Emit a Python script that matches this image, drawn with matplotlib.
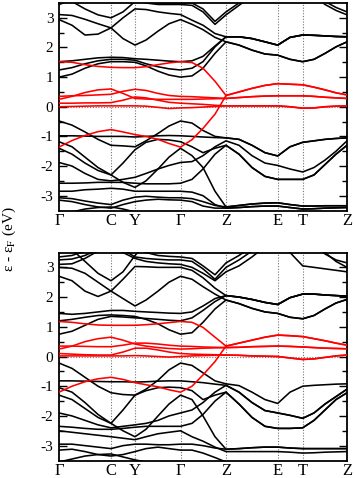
import matplotlib
matplotlib.use("Agg")
import matplotlib.pyplot as plt

# k-path sample positions (path length units) and high-symmetry points
K = [0, 13, 26, 39, 52, 64, 76, 87, 99, 110, 121.5,
     133, 144, 156, 167,
     180, 193, 206, 218.7, 231, 243.7, 255, 266, 277, 288]
HS_POS = [0, 52, 76, 121.5, 167, 218.7, 243.7, 288]
HS_LAB = ['Γ', 'C', 'Y', 'Γ', 'Z', 'E', 'T', 'Z']
YTICKS = [-3, -2, -1, 0, 1, 2, 3]

# ---------------- top panel ----------------
T_up = [0.5, 0.62, 0.72, 0.78, 0.76, 0.74, 0.66, 0.57, 0.47, 0.4]
T_mid = [0.31, 0.34, 0.36, 0.37, 0.37, 0.37, 0.35, 0.32, 0.3, 0.28]
T_low = [0.03, 0.03, 0.03, 0.03, 0.0, -0.05, -0.04, 0.0, 0.02, 0.03]
T_h2c = [2.36, 2.3, 2.19, 2.08, 2.34, 2.42, 2.41, 2.39, 2.37, 2.36]
T_h3c = [2.08, 1.91, 1.78, 1.74, 1.6, 1.52, 1.6, 1.8, 2.02, 2.19]
T_z1 = [-1.1, -1.3, -1.55, -1.66, -1.35, -1.2, -1.15, -1.1, -1.07, -1.05]
T_z2 = [-1.3, -1.65, -1.9, -1.98, -2.1, -2.2, -2.05, -1.8, -1.5, -1.15]
T_z3 = [-1.6, -2.05, -2.35, -2.45, -2.45, -2.45, -2.3, -1.95, -1.6, -1.3]
T_z4 = [-3.33, -3.28, -3.25, -3.24, -3.3, -3.35, -3.35, -3.34, -3.34, -3.34]
T_z5 = [-3.4, -3.37, -3.35, -3.35, -3.4, -3.45, -3.44, -3.42, -3.41, -3.4]
OUT_HI = [3.9] * 10
OUT_LO = [-3.6] * 10

top_black = [
    [3.8, 3.55, 3.3, 3.1, 3.0, 3.2, 3.55, 3.8, 3.9, 3.9, 3.9] + [3.9, 3.9, 3.9, 3.9] + OUT_HI,
    [3.11, 3.08, 2.95, 2.8, 2.66, 3.0, 3.3, 3.28, 3.2, 3.15, 3.11] + [2.92, 2.75, 2.47, 2.36] + T_h2c,
    [2.94, 2.75, 2.42, 2.45, 2.66, 2.3, 2.08, 2.25, 2.55, 2.8, 2.94] + [2.78, 2.6, 2.34, 2.19] + T_h3c,
    [3.45, 3.6, 3.8, 3.9, 3.9, 3.8, 3.6, 3.5, 3.45, 3.45, 3.45] + [3.42, 3.2, 2.78, 3.1]
    + [3.42, 3.75, 3.9, 3.9, 3.9, 3.9, 3.75, 3.45, 3.25, 3.1],
    [3.5, 3.7, 3.9, 3.9, 3.9, 3.9, 3.7, 3.55, 3.5, 3.5, 3.5] + [3.5, 3.3, 2.88, 3.2]
    + [3.5, 3.85, 3.9, 3.9, 3.9, 3.9, 3.85, 3.55, 3.35, 3.2],
    [1.52, 1.55, 1.6, 1.65, 1.67, 1.66, 1.62, 1.6, 1.57, 1.54, 1.52] + [1.55, 1.7, 2.05, 2.36] + T_h2c,
    [1.24, 1.32, 1.45, 1.55, 1.6, 1.6, 1.57, 1.45, 1.35, 1.28, 1.24] + [1.3, 1.52, 2.02, 2.36] + T_h2c,
    [1.0, 1.1, 1.3, 1.45, 1.52, 1.52, 1.5, 1.38, 1.2, 1.07, 1.0] + [1.04, 1.3, 1.8, 2.19] + T_h3c,
    [-0.48, -0.62, -0.85, -1.1, -1.3, -1.32, -1.35, -1.15, -0.9, -0.65, -0.48] + [-0.55, -0.8, -1.0, -1.05] + T_z1,
    [-0.98, -0.98, -0.99, -1.0, -1.0, -1.0, -1.02, -1.0, -0.98, -0.97, -0.98] + [-1.0, -1.02, -1.04, -1.05] + T_z1,
    [-1.18, -1.35, -1.7, -2.05, -2.3, -1.9, -1.45, -1.2, -1.1, -1.12, -1.18] + [-1.35, -1.55, -1.4, -1.3] + T_z3,
    [-1.4, -1.6, -1.9, -2.15, -2.3, -2.55, -2.72, -2.5, -2.1, -1.7, -1.4] + [-1.65, -2.05, -2.85, -3.38] + T_z4,
    [-1.88, -2.0, -2.25, -2.45, -2.5, -2.45, -2.38, -2.25, -2.1, -1.98, -1.88] + [-1.85, -1.65, -1.35, -1.15] + T_z2,
    [-2.58, -2.58, -2.57, -2.55, -2.55, -2.55, -2.58, -2.6, -2.6, -2.6, -2.58] + [-2.45, -2.1, -1.6, -1.3] + T_z3,
    [-2.85, -2.85, -2.8, -2.78, -2.75, -2.78, -2.85, -2.85, -2.85, -2.85, -2.85] + [-2.88, -3.0, -3.3, -3.42] + T_z5,
    [-3.07, -3.1, -3.18, -3.25, -3.3, -3.15, -3.05, -3.02, -3.05, -3.07, -3.07] + [-3.1, -3.2, -3.33, -3.38] + T_z4,
    [-3.15, -3.2, -3.3, -3.38, -3.42, -3.3, -3.2, -3.15, -3.12, -3.14, -3.15] + [-3.2, -3.35, -3.42, -3.42] + T_z5,
    [-3.6, -3.55, -3.45, -3.4, -3.38, -3.45, -3.55, -3.6, -3.6, -3.6, -3.6] + [-3.6] * 4 + OUT_LO,
]
top_red = [
    [1.52, 1.5, 1.42, 1.36, 1.33, 1.32, 1.32, 1.35, 1.42, 1.48, 1.52] + [1.49, 1.3, 0.86, 0.38] + T_up,
    [-1.36, -1.14, -0.97, -0.84, -0.77, -0.85, -0.94, -1.0, -1.1, -1.24, -1.36] + [-1.11, -0.73, -0.25, 0.38] + T_up,
    [0.25, 0.35, 0.48, 0.57, 0.6, 0.45, 0.28, 0.26, 0.25, 0.25, 0.25] + [0.25, 0.26, 0.27, 0.28] + T_mid,
    [0.35, 0.37, 0.38, 0.4, 0.42, 0.52, 0.59, 0.55, 0.45, 0.38, 0.35] + [0.34, 0.32, 0.3, 0.28] + T_mid,
    [0.12, 0.12, 0.13, 0.13, 0.14, 0.22, 0.33, 0.3, 0.22, 0.15, 0.12] + [0.1, 0.08, 0.05, 0.03] + T_low,
    [0.0, 0.01, 0.02, 0.03, 0.03, 0.03, 0.03, 0.02, -0.02, -0.06, -0.04] + [-0.03, -0.01, 0.01, 0.03] + T_low,
]

# ---------------- bottom panel ----------------
B_up = [0.45, 0.55, 0.65, 0.72, 0.7, 0.67, 0.6, 0.53, 0.45, 0.38]
B_mid = [0.31, 0.33, 0.34, 0.35, 0.34, 0.32, 0.3, 0.28, 0.27, 0.26]
B_low = [0.04, 0.02, 0.01, 0.0, -0.05, -0.1, -0.08, -0.03, 0.02, 0.05]
B_hz1 = [2.0, 1.92, 1.82, 1.75, 1.98, 2.1, 2.1, 2.07, 2.05, 2.03]
B_hz2 = [1.78, 1.62, 1.5, 1.45, 1.32, 1.27, 1.38, 1.6, 1.8, 1.92]
B_z1 = [-0.98, -1.2, -1.45, -1.58, -1.2, -1.0, -0.97, -0.95, -0.93, -0.92]
B_z2 = [-1.2, -1.55, -1.82, -1.9, -1.98, -2.08, -1.9, -1.6, -1.35, -1.1]
B_z3 = [-1.6, -2.05, -2.35, -2.42, -2.42, -2.4, -2.15, -1.8, -1.45, -1.22]
B_z4 = [-3.1, -3.07, -3.05, -3.05, -3.08, -3.1, -3.1, -3.1, -3.1, -3.1]
B_z5 = [-3.2, -3.2, -3.2, -3.2, -3.22, -3.25, -3.24, -3.22, -3.21, -3.2]

bot_black = [
    [3.9, 3.6, 3.2, 2.8, 2.55, 2.85, 3.4, 3.8, 3.9, 3.9, 3.9] + [3.9] * 4 + OUT_HI,
    [3.0, 2.97, 2.8, 2.5, 2.2, 2.6, 3.03, 3.02, 3.0, 3.0, 3.0] + [2.9, 2.65, 2.3, 2.05] + B_hz1,
    [2.7, 2.55, 2.2, 2.02, 2.2, 1.95, 1.7, 1.9, 2.2, 2.5, 2.7] + [2.6, 2.35, 2.1, 1.9] + B_hz2,
    [3.35, 3.4, 3.55, 3.8, 3.9, 3.9, 3.7, 3.5, 3.4, 3.37, 3.35] + [3.3, 3.05, 2.75, 3.15]
    + [3.4, 3.7, 3.9, 3.9, 3.9, 3.9, 3.8, 3.45, 3.25, 3.15],
    [3.25, 3.28, 3.4, 3.6, 3.8, 3.6, 3.35, 3.3, 3.27, 3.25, 3.25] + [3.2, 2.95, 2.6, 3.0]
    + [3.25, 3.55, 3.8, 3.9, 3.9, 3.9, 3.8, 3.5, 3.2, 3.0],
    [3.1, 3.12, 3.3, 3.55, 3.7, 3.5, 3.3, 3.2, 3.15, 3.12, 3.1] + [3.0, 2.8, 2.55, 2.85]
    + [3.05, 3.35, 3.7, 3.9, 3.5, 3.05, 3.0, 2.95, 2.9, 2.85],
    [1.45, 1.42, 1.45, 1.5, 1.55, 1.55, 1.52, 1.5, 1.48, 1.46, 1.45] + [1.5, 1.7, 1.95, 2.05] + B_hz1,
    [1.2, 1.25, 1.32, 1.38, 1.4, 1.38, 1.35, 1.25, 1.1, 0.9, 0.75] + [0.8, 1.15, 1.6, 1.9] + B_hz2,
    [0.75, 0.85, 1.05, 1.25, 1.35, 1.33, 1.3, 1.28, 1.25, 1.22, 1.2] + [1.3, 1.55, 1.85, 2.05] + B_hz1,
    [-0.22, -0.4, -0.7, -1.0, -1.22, -1.28, -1.3, -1.1, -0.8, -0.45, -0.22] + [-0.3, -0.55, -0.82, -0.92] + B_z1,
    [-0.82, -0.82, -0.83, -0.84, -0.85, -0.85, -0.86, -0.85, -0.83, -0.82, -0.82] + [-0.85, -0.88, -0.93, -0.97] + B_z2,
    [-1.05, -1.2, -1.55, -1.95, -2.25, -1.8, -1.3, -1.15, -1.05, -1.03, -1.05] + [-1.15, -1.45, -1.3, -1.2] + B_z3,
    [-1.3, -1.45, -1.75, -2.05, -2.25, -2.5, -2.7, -2.45, -2.0, -1.6, -1.3] + [-1.45, -2.0, -2.7, -3.12] + B_z4,
    [-1.9, -2.0, -2.15, -2.3, -2.4, -2.35, -2.3, -2.25, -2.15, -2.0, -1.9] + [-1.8, -1.55, -1.2, -0.97] + B_z2,
    [-2.35, -2.38, -2.42, -2.45, -2.45, -2.42, -2.38, -2.35, -2.35, -2.35, -2.35] + [-2.25, -1.95, -1.5, -1.2] + B_z3,
    [-2.5, -2.55, -2.6, -2.65, -2.7, -2.75, -2.8, -2.7, -2.6, -2.55, -2.5] + [-2.7, -2.85, -3.05, -3.2] + B_z5,
    [-2.95, -2.95, -3.0, -3.05, -3.1, -3.0, -2.95, -2.95, -2.97, -2.97, -2.95] + [-2.95, -3.0, -3.08, -3.12] + B_z4,
    [-3.15, -3.12, -3.2, -3.3, -3.35, -3.3, -3.2, -3.1, -3.05, -3.1, -3.15] + [-3.15, -3.25, -3.4, -3.55] + OUT_LO,
    [-3.55, -3.45, -3.35, -3.3, -3.28, -3.38, -3.48, -3.55, -3.6, -3.6, -3.6] + [-3.6] * 4 + OUT_LO,
]
bot_red = [
    [1.18, 1.15, 1.1, 1.06, 1.05, 1.05, 1.05, 1.07, 1.1, 1.14, 1.18] + [1.15, 0.98, 0.65, 0.35] + B_up,
    [-1.2, -1.0, -0.85, -0.75, -0.7, -0.77, -0.88, -0.95, -1.02, -1.12, -1.2] + [-1.0, -0.62, -0.17, 0.35] + B_up,
    [0.25, 0.35, 0.5, 0.6, 0.65, 0.55, 0.42, 0.35, 0.3, 0.27, 0.25] + [0.26, 0.28, 0.29, 0.3] + B_mid,
    [0.35, 0.35, 0.34, 0.33, 0.33, 0.38, 0.45, 0.45, 0.42, 0.38, 0.35] + [0.34, 0.32, 0.31, 0.3] + B_mid,
    [0.1, 0.08, 0.06, 0.05, 0.05, 0.15, 0.28, 0.28, 0.22, 0.15, 0.1] + [0.08, 0.07, 0.06, 0.05] + B_low,
    [0.02, 0.02, 0.02, 0.02, 0.02, 0.02, 0.03, 0.02, 0.0, -0.02, 0.0] + [0.02, 0.03, 0.04, 0.05] + B_low,
]

plt.rcParams['font.family'] = ['Liberation Serif', 'DejaVu Serif']
plt.rcParams['mathtext.fontset'] = 'stix'
plt.rcParams['axes.unicode_minus'] = False

fig = plt.figure(figsize=(3.54, 4.78), dpi=100)
W, H = 354.0, 478.0
ax_top = fig.add_axes([59 / W, 1 - 210.5 / H, 288 / W, 207.5 / H])
ax_bot = fig.add_axes([59 / W, 1 - 460.5 / H, 288 / W, 208 / H])


def draw(ax, black, red):
    for xv in HS_POS[1:-1]:
        ax.axvline(xv, color='0.45', lw=0.8, ls=(0, (1, 1.5)), zorder=1)
    ax.axhline(0, color='0.45', lw=0.8, ls=(0, (1, 1.5)), zorder=1)
    for b in black:
        ax.plot(K, b, color='black', lw=1.15, zorder=2, solid_joinstyle='round')
    for b in red:
        ax.plot(K, b, color='#ff0000', lw=1.15, zorder=3, solid_joinstyle='round')
    ax.set_xlim(HS_POS[0], HS_POS[-1])
    ax.set_ylim(-3.5, 3.5)
    ax.set_xticks(HS_POS)
    ax.set_xticklabels(HS_LAB)
    ax.set_yticks(YTICKS)
    ax.set_yticklabels([str(v) for v in YTICKS])
    ax.set_yticks([v + 0.5 for v in range(-4, 4) if -3.5 < v + 0.5 < 3.5], minor=True)
    ax.tick_params(axis='x', length=0, pad=1.5, labelsize=12)
    ax.tick_params(axis='y', which='major', direction='in', length=6, width=1,
                   right=True, labelsize=11, pad=4)
    ax.tick_params(axis='y', which='minor', direction='in', length=3.5, width=1,
                   right=True)
    for s in ax.spines.values():
        s.set_linewidth(1.3)


draw(ax_top, top_black, top_red)
draw(ax_bot, bot_black, bot_red)

fig.text(9 / W, 1 - 239 / H, r'ε - ε$_{\rm F}$ (eV)', rotation=90,
         ha='center', va='center', fontsize=11)

fig.savefig('out.png', dpi=100)
